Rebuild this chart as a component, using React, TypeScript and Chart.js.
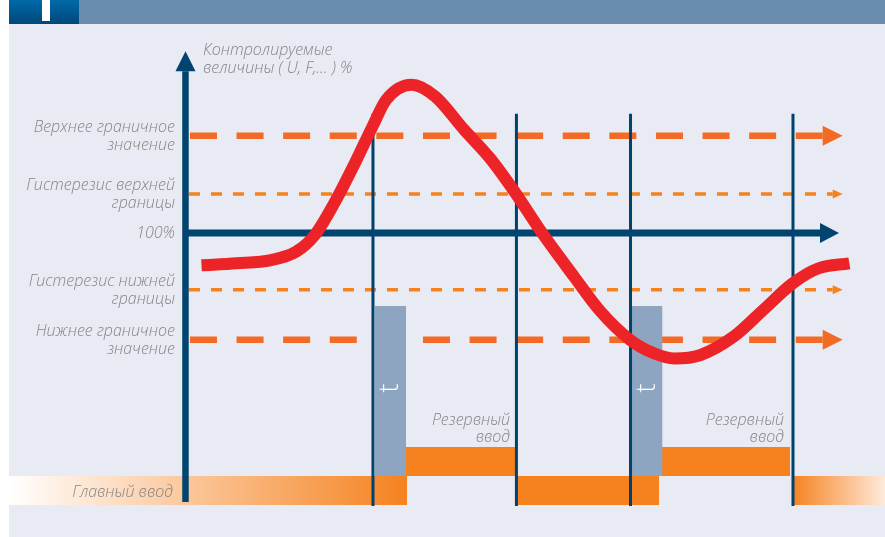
import React, { useEffect, useRef } from "react";
import { Chart, registerables } from "chart.js";

Chart.register(...registerables);

// ---------- data ----------
// controlled quantity over time (time in arbitrary units, value in %)
const curveTime = [2.4, 7.7, 12.8, 16.6, 19.4, 22.3, 25.4, 28.0, 30.1, 33.9, 37.4, 41.8, 45.6, 49.5, 53.1, 58.2, 62.0, 66.6, 70.2, 73.3, 77.1, 82.2, 86.6, 91.0, 94.8, 99.5];
const curveValue = [95.0, 95.3, 95.8, 97.1, 99.7, 104.6, 110.8, 116.4, 120.6, 122.9, 121.1, 115.9, 111.6, 106.1, 100.5, 93.3, 88.1, 83.5, 81.4, 80.6, 81.1, 84.0, 88.1, 92.2, 94.5, 95.3];

const nominalValue = 100;
const nominalLabel = "100%";

const thresholdValues = [115, 106, 91.2, 83.5];
const thresholdKinds = ["limit", "hysteresis", "hysteresis", "limit"];
const thresholdLabels = [
  ["Верхнее граничное", "значение"],
  ["Гистерезис верхней", "границы"],
  ["Гистерезис нижней", "границы"],
  ["Нижнее граничное", "значение"],
];

const switchTimes = [28.1, 49.6, 66.7, 91.05];
const delayStart = [28.4, 66.85];
const delayEnd = [33.05, 71.5];
const delayLabel = "t";

const mainInputStart = [-26.45, 49.7, 90.9];
const mainInputEnd = [33.2, 71.0, 104.84];
const mainInputLabel = "Главный ввод";

const reserveInputStart = [33.05, 71.27];
const reserveInputEnd = [49.55, 90.6];
const reserveInputLabel = ["Резервный", "ввод"];

const axisTitle = ["Контролируемые", "величины ( U, F,… ) %"];

// ---------- scale / layout constants ----------
const TIME_MIN = -26.45;
const TIME_MAX = 104.84;
const VALUE_MIN = 53;
const VALUE_MAX = 136;
const TRACK_MIN = -1.103;
const TRACK_MAX = 17.414;
const MAIN_LEVEL = [0, 1];
const RESERVE_LEVEL = [1, 2];
const DELAY_LEVEL = [1, 6.86];
const SWITCH_EXTENT = [57.8, 118.4];
const YAXIS_EXTENT = [58.4, 125.0];
const NOMINAL_END = 95.1;

const NAVY = "#00446f";
const ORANGE = "#f5821f";
const LIMIT_ORANGE = "#f36a24";
const GREY_BAR = "#8ea5c1";
const TEXT = "#858585";
const FONT = "'Open Sans', 'DejaVu Sans', sans-serif";

const kindStyle: Record<string, any> = {
  limit: { width: 6.5, dash: [27, 19.6], color: LIMIT_ORANGE, start: 0.67, end: 95.5, arrowLen: 20, arrowHalf: 10 },
  hysteresis: { width: 3.5, dash: [11, 11], color: ORANGE, start: 0.52, end: 97.0, arrowLen: 10, arrowHalf: 4.5 },
};

function rect(t0: number, t1: number, lo: number, hi: number, color: any) {
  return {
    type: "line",
    yAxisID: "yIn",
    data: [{ x: t0, y: hi }, { x: t1, y: hi }],
    borderWidth: 0,
    borderColor: "rgba(0,0,0,0)",
    backgroundColor: color,
    fill: { value: lo },
    pointRadius: 0,
    pointHitRadius: 0,
    tension: 0,
  };
}

function vline(t: number, v0: number, v1: number, width: number, color: string) {
  return {
    type: "line",
    yAxisID: "y",
    data: [{ x: t, y: v0 }, { x: t, y: v1 }],
    borderWidth: width,
    borderColor: color,
    pointRadius: 0,
    pointHitRadius: 0,
    fill: false,
    tension: 0,
    borderCapStyle: "butt",
  };
}

function triangle(ctx: CanvasRenderingContext2D, bx: number, by: number, dir: string, len: number, half: number, color: string) {
  ctx.beginPath();
  if (dir === "right") {
    ctx.moveTo(bx, by - half);
    ctx.lineTo(bx + len, by);
    ctx.lineTo(bx, by + half);
  } else {
    ctx.moveTo(bx - half, by);
    ctx.lineTo(bx, by - len);
    ctx.lineTo(bx + half, by);
  }
  ctx.closePath();
  ctx.fillStyle = color;
  ctx.fill();
}

const decor = {
  id: "decor",
  beforeDraw(chart: any) {
    const { ctx, width, height } = chart;
    ctx.save();
    ctx.fillStyle = "#e8ebf3";
    ctx.fillRect(0, 0, width, height);
    ctx.fillStyle = "#6a8caf";
    ctx.fillRect(0, 0, width, 24);
    const g = ctx.createLinearGradient(0, 0, 0, 24);
    g.addColorStop(0, "#006aa8");
    g.addColorStop(1, "#00477a");
    ctx.fillStyle = g;
    ctx.fillRect(0, 0, 70, 24);
    ctx.fillStyle = "#ffffff";
    ctx.fillRect(33, 0, 8, 21);
    ctx.restore();
  },
  afterDatasetsDraw(chart: any) {
    const { ctx, scales } = chart;
    const px = (t: number) => scales.x.getPixelForValue(t);
    const py = (v: number) => scales.y.getPixelForValue(v);
    const pk = (v: number) => scales.yIn.getPixelForValue(v);
    ctx.save();

    // arrow heads
    const axisX = px(0);
    triangle(ctx, axisX, py(YAXIS_EXTENT[1]), "up", 20, 10, NAVY);
    triangle(ctx, px(NOMINAL_END), py(nominalValue), "right", 19, 10, NAVY);
    thresholdValues.forEach((v, i) => {
      const s = kindStyle[thresholdKinds[i]];
      triangle(ctx, px(s.end), py(v), "right", s.arrowLen, s.arrowHalf, s.color);
    });

    // labels
    ctx.fillStyle = TEXT;
    ctx.font = `italic 300 16px ${FONT}`;
    ctx.textBaseline = "alphabetic";
    ctx.textAlign = "right";
    const labelX = axisX - 10.5;
    thresholdValues.forEach((v, i) => {
      const y = py(v);
      ctx.fillText(thresholdLabels[i][0], labelX, y - 4);
      ctx.fillText(thresholdLabels[i][1], labelX, y + 14);
    });
    ctx.fillText(nominalLabel, labelX, py(nominalValue) + 5.5);
    ctx.fillText(mainInputLabel, axisX - 12.5, pk((MAIN_LEVEL[0] + MAIN_LEVEL[1]) / 2) + 6.5);
    reserveInputEnd.forEach((t) => {
      const x = px(t) - 6;
      const top = pk(RESERVE_LEVEL[1]);
      ctx.fillText(reserveInputLabel[0], x, top - 22);
      ctx.fillText(reserveInputLabel[1], x, top - 5.5);
    });
    ctx.textAlign = "left";
    const tipY = py(YAXIS_EXTENT[1]) - 20;
    ctx.fillText(axisTitle[0], axisX + 17.5, tipY + 4);
    ctx.fillText(axisTitle[1], axisX + 17.5, tipY + 22);

    // delay markers
    ctx.fillStyle = "#ffffff";
    ctx.font = `300 27px ${FONT}`;
    ctx.textAlign = "center";
    ctx.textBaseline = "middle";
    delayStart.forEach((t0, i) => {
      const cx = (px(t0) + px(delayEnd[i])) / 2;
      const cy = (pk(DELAY_LEVEL[0]) + pk(DELAY_LEVEL[1])) / 2 - 3;
      ctx.save();
      ctx.translate(cx, cy);
      ctx.rotate(-Math.PI / 2);
      ctx.fillText(delayLabel, 0, 0);
      ctx.restore();
    });
    ctx.restore();
  },
};

function buildConfig(): any {
  const datasets: any[] = [];
  // curve (top-most)
  datasets.push({
    type: "line",
    yAxisID: "y",
    data: curveTime.map((t, i) => ({ x: t, y: curveValue[i] })),
    borderColor: "#ed2427",
    borderWidth: 12,
    borderCapStyle: "butt",
    borderJoinStyle: "round",
    pointRadius: 0,
    pointHitRadius: 0,
    fill: false,
    cubicInterpolationMode: "monotone",
  });
  // axes
  datasets.push(vline(0, YAXIS_EXTENT[0], YAXIS_EXTENT[1], 6.5, NAVY));
  datasets.push({
    type: "line",
    yAxisID: "y",
    data: [{ x: 0, y: nominalValue }, { x: NOMINAL_END, y: nominalValue }],
    borderColor: NAVY,
    borderWidth: 7,
    borderCapStyle: "butt",
    pointRadius: 0,
    pointHitRadius: 0,
    fill: false,
  });
  // switch events
  switchTimes.forEach((t) => datasets.push(vline(t, SWITCH_EXTENT[0], SWITCH_EXTENT[1], 3, "#00416d")));
  // delay bars
  delayStart.forEach((t0, i) => datasets.push(rect(t0, delayEnd[i], DELAY_LEVEL[0], DELAY_LEVEL[1], GREY_BAR)));
  // thresholds
  thresholdValues.forEach((v, i) => {
    const s = kindStyle[thresholdKinds[i]];
    datasets.push({
      type: "line",
      yAxisID: "y",
      data: [{ x: s.start, y: v }, { x: s.end, y: v }],
      borderColor: s.color,
      borderWidth: s.width,
      borderDash: s.dash,
      borderCapStyle: "butt",
      pointRadius: 0,
      pointHitRadius: 0,
      fill: false,
    });
  });
  // reserve input
  reserveInputStart.forEach((t0, i) => datasets.push(rect(t0, reserveInputEnd[i], RESERVE_LEVEL[0], RESERVE_LEVEL[1], ORANGE)));
  // main input
  mainInputStart.forEach((t0, i) => {
    const t1 = mainInputEnd[i];
    const last = mainInputStart.length - 1;
    const color = (c: any) => {
      const chart = c.chart;
      const xs = chart.scales && chart.scales.x;
      if (!xs || !chart.chartArea) return ORANGE;
      if (i !== 0 && i !== last) return ORANGE;
      const a = xs.getPixelForValue(t0);
      const b = xs.getPixelForValue(t1);
      const g = chart.ctx.createLinearGradient(a, 0, b, 0);
      if (i === 0) {
        g.addColorStop(0, "#ffffff");
        g.addColorStop(1, ORANGE);
      } else {
        g.addColorStop(0, ORANGE);
        g.addColorStop(1, "#ffeadb");
      }
      return g;
    };
    datasets.push(rect(t0, t1, MAIN_LEVEL[0], MAIN_LEVEL[1], color));
  });

  return {
    type: "line",
    data: { datasets },
    options: {
      animation: false,
      responsive: false,
      devicePixelRatio: 1,
      events: [],
      layout: { padding: 0 },
      plugins: { legend: { display: false }, tooltip: { enabled: false }, title: { display: false } },
      scales: {
        x: { type: "linear", display: false, min: TIME_MIN, max: TIME_MAX, bounds: "data" },
        y: { type: "linear", display: false, min: VALUE_MIN, max: VALUE_MAX, bounds: "data" },
        yIn: { type: "linear", display: false, min: TRACK_MIN, max: TRACK_MAX, bounds: "data" },
      },
    },
    plugins: [decor],
  };
}

export default function App() {
  const ref = useRef<HTMLCanvasElement>(null);
  useEffect(() => {
    const canvas = ref.current;
    if (!canvas) return;
    const chart = new Chart(canvas, buildConfig());
    return () => chart.destroy();
  }, []);
  return (
    <div style={{ position: "absolute", left: 9, top: 0, width: 876, height: 537 }}>
      <canvas ref={ref} width={876} height={537} style={{ display: "block", width: 876, height: 537 }} />
    </div>
  );
}
